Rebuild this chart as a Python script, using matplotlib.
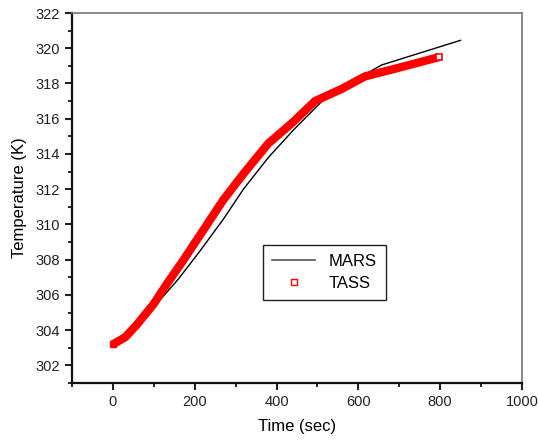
import matplotlib.pyplot as plt
from matplotlib.lines import Line2D
from matplotlib.ticker import MultipleLocator

plt.rcParams['font.family'] = ['Liberation Sans', 'DejaVu Sans']

# values
mars_time = [0, 50, 107, 160, 213, 270, 319, 380, 441, 514, 560, 628, 657, 850]
mars_temp = [303.2, 304.0, 305.5, 306.9, 308.5, 310.3, 312.0, 313.8, 315.35,
             317.06, 317.6, 318.67, 319.05, 320.45]

tass_time = [0, 30, 58, 100, 131, 170, 213, 270, 320, 380, 440, 494, 560, 616, 700, 798]
tass_temp = [303.2, 303.6, 304.3, 305.5, 306.6, 307.9, 309.4, 311.4, 312.9, 314.6, 315.8,
             317.0, 317.7, 318.4, 318.9, 319.5]

fig = plt.figure(figsize=(5.38, 4.41), dpi=100)
ax = fig.add_axes([0.134, 0.1315, 0.836, 0.839])

ax.plot(mars_time, mars_temp, color='black', lw=1, zorder=2)
# TASS drawn as a dense band of squares -> thick red line plus end marker
ax.plot(tass_time, tass_temp, color='red', lw=6, solid_capstyle='butt', zorder=3)
ax.plot(tass_time[-1:], tass_temp[-1:], 's', ms=5, mfc='white', mec='red', mew=1.2, zorder=4)
ax.plot(tass_time[:1], tass_temp[:1], 's', ms=5, mfc='red', mec='red', zorder=4)

ax.set_xlim(-100, 1000)
ax.set_ylim(301, 322)
ax.set_xticks([0, 200, 400, 600, 800, 1000])
ax.set_yticks(range(302, 323, 2))
ax.xaxis.set_minor_locator(MultipleLocator(100))
ax.yaxis.set_minor_locator(MultipleLocator(1))
ax.tick_params(which='major', direction='out', length=5, width=1.5, labelsize=10.5, colors='#222222')
ax.tick_params(which='minor', direction='out', length=3, width=1.2)
ax.tick_params(top=False, right=False, which='both')

for s in ['left', 'bottom']:
    ax.spines[s].set_linewidth(1.6)
    ax.spines[s].set_color('#111111')
for s in ['top', 'right']:
    ax.spines[s].set_linewidth(1.2)
    ax.spines[s].set_color('#777777')

ax.set_xlabel('Time (sec)', fontsize=12, labelpad=7)
ax.set_ylabel('Temperature (K)', fontsize=12, labelpad=6)

handles = [Line2D([], [], color='#555555', lw=1.2),
           Line2D([], [], ls='none', marker='s', ms=4, mfc='white', mec='red', mew=1)]
leg = ax.legend(handles, ['MARS', 'TASS'], loc='lower left', bbox_to_anchor=(0.424, 0.224),
                borderaxespad=0, fontsize=12, fancybox=False, framealpha=1, edgecolor='#222222',
                handlelength=2.6, borderpad=0.55, labelspacing=0.4)
leg.get_frame().set_linewidth(1.0)

fig.savefig('out.png', dpi=100)
